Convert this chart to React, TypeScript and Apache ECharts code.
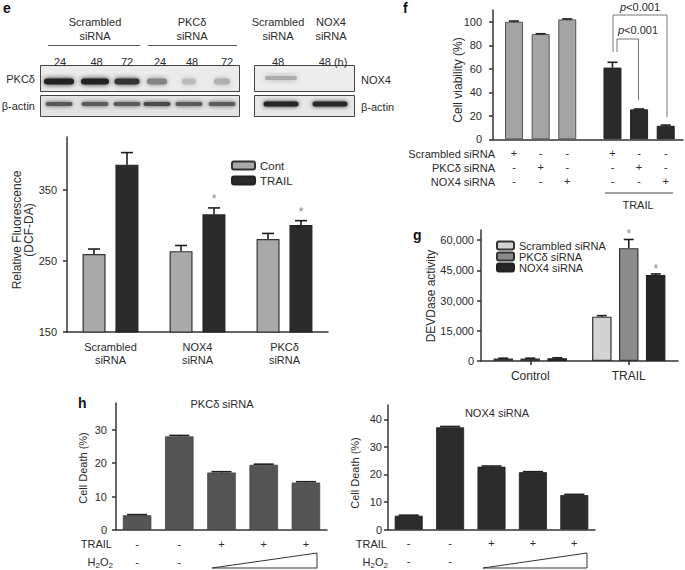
import React, { useEffect, useRef } from 'react';
import * as echarts from 'echarts';

const FONT = "'Liberation Sans', Arial, Helvetica, sans-serif";
const INK = '#2b2b2b';
const AX = { color: '#333', width: 1.5 };

// ---------- Panel e (DCF-DA fluorescence) ----------
const eCategories = ['Scrambled\nsiRNA', 'NOX4\nsiRNA', 'PKCδ\nsiRNA'];
const eCont = [260, 264, 281];
const eContSE = [7, 8, 8];
const eTrail = [386, 316, 301];
const eTrailSE = [17, 9, 6];
const eTrailStar = [false, true, true];
const eTicks = [150, 250, 350];

// Western blot band intensities (0..1)
const blotPKC = [1, 1, 0.9, 0.5, 0.22, 0.28];
const blotActinLeft = [0.72, 0.7, 0.7, 0.78, 0.7, 0.7];
const blotNOX4 = [0.3, 0.0];
const blotActinRight = [0.97, 0.95];
const blotLeftHours = ['24', '48', '72', '24', '48', '72'];
const blotRightHours = ['48', '48 (h)'];

// ---------- Panel f (cell viability) ----------
const fPositions = [0, 1, 2, 3.7, 4.7, 5.7];
const fViability = [100, 89.5, 102, 61, 25.5, 11.5];
const fSE = [0.6, 0.3, 0.4, 4.5, 0.3, 0.6];
const fTrail = [false, false, false, true, true, true];
const fRowNames = ['Scrambled siRNA', 'PKCδ siRNA', 'NOX4 siRNA'];
const fScrambledRow = ['+', '-', '-', '+', '-', '-'];
const fPKCRow = ['-', '+', '-', '-', '+', '-'];
const fNOX4Row = ['-', '-', '+', '-', '-', '+'];
const fTicks = [0, 20, 40, 60, 80, 100];

// ---------- Panel g (DEVDase activity) ----------
const gCategories = ['Control', 'TRAIL'];
const gSeriesNames = ['Scrambled siRNA', 'PKCδ siRNA', 'NOX4 siRNA'];
const gScrambled = [1200, 22000];
const gScrambledSE = [200, 500];
const gPKC = [1200, 56000];
const gPKCSE = [200, 4300];
const gNOX4 = [1400, 42700];
const gNOX4SE = [200, 500];
const gPKCStar = [false, true];
const gNOX4Star = [false, true];
const gTicks = [0, 15000, 30000, 45000, 60000];

// ---------- Panel h (cell death) ----------
const hConditions = ['1', '2', '3', '4', '5'];
const hTrailRow = ['-', '-', '+', '+', '+'];
const hH2O2Row = ['-', '-', '', '', ''];
const hPKCDeath = [4.4, 28, 17.2, 19.5, 14.2];
const hNOX4Death = [5, 37.1, 22.8, 20.8, 12.5];
const hSE = [0.2, 0.3, 0.25, 0.2, 0.25];
const hLeftTicks = [0, 10, 20, 30];
const hRightTicks = [0, 10, 20, 30, 40];

const txt = (text: string, x: number, y: number, extra: any = {}) => ({
  type: 'text',
  x,
  y,
  rotation: extra.rotation || 0,
  style: {
    text,
    fill: INK,
    fontSize: 11,
    fontFamily: FONT,
    align: 'center',
    verticalAlign: 'middle',
    ...(extra.style || {}),
  },
});

const grayOf = (k: number) => {
  const g = Math.round(232 - k * 200);
  return `rgb(${g},${g},${g})`;
};

const band = (cx: number, cy: number, w: number, h: number, k: number, blur = 4) => ({
  type: 'rect',
  shape: { x: cx - w / 2, y: cy - h / 2, width: w, height: h, r: h / 2 },
  style: { fill: grayOf(k), shadowBlur: blur, shadowColor: grayOf(k) },
});

const errSeries = (
  name: string,
  xi: number,
  yi: number,
  items: number[][],
  offsets: number[],
  cap: number,
  starGap: number
) => ({
  type: 'custom',
  name,
  xAxisIndex: xi,
  yAxisIndex: yi,
  silent: true,
  z: 10,
  data: items,
  renderItem: (_params: any, api: any) => {
    const x0 = api.value(0);
    const v = api.value(1);
    const t = api.value(2);
    const g = api.value(3);
    const s = api.value(4);
    const pb = api.coord([x0, v]);
    const pt = api.coord([x0, t]);
    const x = pb[0] + offsets[g];
    const st = { stroke: '#1e1e1e', lineWidth: 1.6 };
    const ch: any[] = [
      { type: 'line', shape: { x1: x, y1: pb[1], x2: x, y2: pt[1] }, style: st },
      { type: 'line', shape: { x1: x - cap / 2, y1: pt[1], x2: x + cap / 2, y2: pt[1] }, style: st },
    ];
    if (s) {
      ch.push({
        type: 'text',
        x,
        y: pt[1] - starGap,
        style: { text: '*', fill: '#8a8a8a', fontSize: 12, fontFamily: FONT, align: 'center', verticalAlign: 'middle' },
      });
    }
    return { type: 'group', children: ch };
  },
});

const labelStyle = { color: INK, fontSize: 11, fontFamily: FONT };

function buildOption(): any {
  const gridBase = { outerBoundsMode: 'none', containLabel: false };
  const fMin = -0.79;
  const fMax = 6.35;
  const fIdx = (v: number) => fPositions.findIndex((p) => Math.abs(p - v) < 0.01);

  const fRowAxis = (row: string[], margin: number) => ({
    gridIndex: 1,
    type: 'value',
    position: 'bottom',
    min: fMin,
    max: fMax,
    axisLine: { show: false, onZero: false },
    axisTick: { show: false },
    splitLine: { show: false },
    axisLabel: {
      ...labelStyle,
      margin,
      customValues: fPositions,
      formatter: (v: number) => {
        const i = fIdx(v);
        return i >= 0 ? row[i] : '';
      },
    },
  });

  const hAxis = (grid: number, row: string[], margin: number, line: boolean) => ({
    gridIndex: grid,
    type: 'category',
    position: 'bottom',
    data: hConditions,
    axisLine: { show: line, lineStyle: AX, onZero: false },
    axisTick: { show: false },
    axisLabel: { ...labelStyle, margin, formatter: (_v: string, i: number) => row[i] },
  });

  const yVal = (grid: number, min: number, max: number, ticks: number[], margin: number, fmt?: any) => ({
    gridIndex: grid,
    type: 'value',
    min,
    max,
    axisLine: { show: true, lineStyle: AX, onZero: false },
    axisTick: { show: true, length: 4, lineStyle: AX, customValues: ticks },
    axisLabel: { ...labelStyle, margin, customValues: ticks, formatter: fmt },
    splitLine: { show: false },
  });

  // error-bar data
  const eErr = [
    ...eCont.map((v, i) => [i, v, v + eContSE[i], 0, 0]),
    ...eTrail.map((v, i) => [i, v, v + eTrailSE[i], 1, eTrailStar[i] ? 1 : 0]),
  ];
  const fErr = fViability.map((v, i) => [fPositions[i], v, v + fSE[i], 0, 0]);
  const gErr = [
    ...gScrambled.map((v, i) => [i, v, v + gScrambledSE[i], 0, 0]),
    ...gPKC.map((v, i) => [i, v, v + gPKCSE[i], 1, gPKCStar[i] ? 1 : 0]),
    ...gNOX4.map((v, i) => [i, v, v + gNOX4SE[i], 2, gNOX4Star[i] ? 1 : 0]),
  ];
  const hLErr = hPKCDeath.map((v, i) => [i, v, v + hSE[i], 0, 0]);
  const hRErr = hNOX4Death.map((v, i) => [i, v, v + hSE[i], 0, 0]);

  // blot graphics
  const leftLanes = [59, 95, 127, 157, 189, 222];
  const leftW = [30, 28, 25, 20, 14, 16];
  const rightLanes = [281, 330];
  const blot: any[] = [
    { type: 'rect', shape: { x: 40.5, y: 65.5, width: 199, height: 26 }, style: { fill: '#ebebeb', stroke: '#444', lineWidth: 1 } },
    { type: 'rect', shape: { x: 40.5, y: 95.5, width: 199, height: 21 }, style: { fill: '#e3e3e3', stroke: '#444', lineWidth: 1 } },
    { type: 'rect', shape: { x: 254.5, y: 65.5, width: 100, height: 26 }, style: { fill: '#ededed', stroke: '#444', lineWidth: 1 } },
    { type: 'rect', shape: { x: 254.5, y: 95.5, width: 100, height: 21 }, style: { fill: '#e8e8e8', stroke: '#444', lineWidth: 1 } },
    ...blotPKC.map((k, i) => band(leftLanes[i], 81.5, leftW[i], 6, k, 5)),
    ...blotActinLeft.map((k, i) => band(leftLanes[i], 104, 27, 4, k, 4)),
    ...blotNOX4.filter((k) => k > 0).map((k, i) => band(rightLanes[i], 78, 32, 4, k, 6)),
    ...blotActinRight.map((k, i) => band(rightLanes[i], 104, 35, 5, k, 4)),
    txt('Scrambled\nsiRNA', 95, 29, { style: { lineHeight: 14 } }),
    txt('PKCδ\nsiRNA', 192, 29, { style: { lineHeight: 14 } }),
    txt('Scrambled\nsiRNA', 278, 29, { style: { lineHeight: 14 } }),
    txt('NOX4\nsiRNA', 331, 29, { style: { lineHeight: 14 } }),
    { type: 'line', shape: { x1: 48, y1: 45.5, x2: 140, y2: 45.5 }, style: { stroke: '#555', lineWidth: 1 } },
    { type: 'line', shape: { x1: 148, y1: 45.5, x2: 237, y2: 45.5 }, style: { stroke: '#555', lineWidth: 1 } },
    ...blotLeftHours.map((h, i) => txt(h, [60, 96.5, 127, 160, 192, 227][i], 61.5)),
    ...blotRightHours.map((h, i) => txt(h, [278, 333][i], 61.5)),
    txt('PKCδ', 35, 79, { style: { align: 'right' } }),
    txt('β-actin', 35, 106, { style: { align: 'right' } }),
    txt('NOX4', 361, 80, { style: { align: 'left' } }),
    txt('β-actin', 361, 107, { style: { align: 'left' } }),
  ];

  const graphics: any[] = [
    ...blot,
    // panel letters
    txt('e', 3, 8, { style: { align: 'left', fontSize: 14, fontWeight: 'bold', fill: '#111' } }),
    txt('f', 403, 8, { style: { align: 'left', fontSize: 14, fontWeight: 'bold', fill: '#111' } }),
    txt('g', 413, 235, { style: { align: 'left', fontSize: 14, fontWeight: 'bold', fill: '#111' } }),
    txt('h', 78, 403, { style: { align: 'left', fontSize: 14, fontWeight: 'bold', fill: '#111' } }),
    // axis titles
    txt('Relative Fluorescence\n(DCF-DA)', 23, 230, { rotation: Math.PI / 2, style: { fontSize: 12, lineHeight: 12 } }),
    txt('Cell viability (%)', 458, 80, { rotation: Math.PI / 2, style: { fontSize: 12 } }),
    txt('DEVDase activity', 431, 296, { rotation: Math.PI / 2, style: { fontSize: 12 } }),
    txt('Cell Death (%)', 83, 468, { rotation: Math.PI / 2 }),
    txt('Cell Death (%)', 355, 473, { rotation: Math.PI / 2 }),
    // f row names
    ...fRowNames.map((n, i) => txt(n, 495, [154, 168, 182][i], { style: { align: 'right' } })),
    // f TRAIL underline
    { type: 'line', shape: { x1: 605, y1: 193, x2: 673, y2: 193 }, style: { stroke: '#444', lineWidth: 1 } },
    txt('TRAIL', 638, 205),
    // f p-value brackets
    { type: 'polyline', shape: { points: [[613, 52], [613, 15], [667, 15], [667, 117]] }, style: { stroke: '#777', lineWidth: 1, fill: 'none' } },
    { type: 'polyline', shape: { points: [[617, 52], [617, 39], [638.5, 39], [638.5, 100]] }, style: { stroke: '#777', lineWidth: 1, fill: 'none' } },
    txt('{i|p}<0.001', 640, 6.5, { style: { rich: { i: { fontStyle: 'italic', fontSize: 11, fontFamily: FONT, fill: INK } } } }),
    txt('{i|p}<0.001', 638, 30, { style: { rich: { i: { fontStyle: 'italic', fontSize: 11, fontFamily: FONT, fill: INK } } } }),
    // h titles and row labels
    txt('PKCδ siRNA', 222, 404),
    txt('NOX4 siRNA', 497, 413),
    txt('TRAIL', 112, 544, { style: { align: 'right' } }),
    txt('H{s|2}O{s|2}', 113, 562, { style: { align: 'right', rich: { s: { fontSize: 8, fontFamily: FONT, fill: INK, verticalAlign: 'bottom', padding: [6, 0, 0, 0] } } } }),
    txt('TRAIL', 387, 544, { style: { align: 'right' } }),
    txt('H{s|2}O{s|2}', 388, 562, { style: { align: 'right', rich: { s: { fontSize: 8, fontFamily: FONT, fill: INK, verticalAlign: 'bottom', padding: [6, 0, 0, 0] } } } }),
    // H2O2 gradient wedges
    { type: 'polygon', shape: { points: [[212, 568], [317, 553], [317, 568]] }, style: { fill: '#fff', stroke: '#333', lineWidth: 1 } },
    { type: 'polygon', shape: { points: [[483, 568], [587, 553], [587, 568]] }, style: { fill: '#fff', stroke: '#333', lineWidth: 1 } },
  ];

  return {
    animation: false,
    backgroundColor: '#fff',
    textStyle: { fontFamily: FONT },
    grid: [
      { ...gridBase, left: 67, top: 137, width: 261, height: 195 },
      { ...gridBase, left: 493, top: 10, width: 190, height: 129.3 },
      { ...gridBase, left: 481, top: 230, width: 197, height: 131 },
      { ...gridBase, left: 116, top: 403, width: 211, height: 127 },
      { ...gridBase, left: 388, top: 405, width: 207, height: 124.5 },
    ],
    legend: [
      {
        data: ['Cont', 'TRAIL'],
        orient: 'vertical',
        left: 226,
        top: 154,
        itemWidth: 23,
        itemHeight: 8,
        itemGap: 2,
        selectedMode: false,
        textStyle: { ...labelStyle, fontSize: 11.5, lineHeight: 13 },
      },
      {
        data: gSeriesNames,
        orient: 'vertical',
        left: 491,
        top: 235,
        itemWidth: 17,
        itemHeight: 8,
        itemGap: 0,
        selectedMode: false,
        textStyle: { ...labelStyle, lineHeight: 11 },
      },
    ],
    xAxis: [
      {
        gridIndex: 0,
        type: 'category',
        data: eCategories,
        axisLine: { show: true, lineStyle: AX, onZero: false },
        axisTick: { show: false },
        axisLabel: { ...labelStyle, margin: 8, lineHeight: 13 },
      },
      {
        gridIndex: 1,
        type: 'value',
        min: fMin,
        max: fMax,
        axisLine: { show: true, lineStyle: AX, onZero: false },
        axisTick: { show: false },
        axisLabel: { show: false },
        splitLine: { show: false },
      },
      fRowAxis(fScrambledRow, 8),
      fRowAxis(fPKCRow, 22),
      fRowAxis(fNOX4Row, 36),
      {
        gridIndex: 2,
        type: 'category',
        data: gCategories,
        axisLine: { show: true, lineStyle: AX, onZero: false },
        axisTick: { show: true, alignWithLabel: true, length: 4, lineStyle: AX },
        axisLabel: { ...labelStyle, fontSize: 12, margin: 9 },
      },
      hAxis(3, hTrailRow, 8, true),
      hAxis(3, hH2O2Row, 26, false),
      hAxis(4, hTrailRow, 8, true),
      hAxis(4, hH2O2Row, 26, false),
    ],
    yAxis: [
      yVal(0, 150, 425, eTicks, 10),
      yVal(1, 0, 110, fTicks, 11),
      yVal(2, 0, 65000, gTicks, 7, (v: number) => v.toLocaleString('en-US')),
      yVal(3, 0, 38, hLeftTicks, 9),
      yVal(4, 0, 45.2, hRightTicks, 6),
    ],
    series: [
      {
        type: 'bar', name: 'Cont', xAxisIndex: 0, yAxisIndex: 0, data: eCont,
        barWidth: 23, barGap: '43%',
        itemStyle: { color: '#a9a9a9', borderColor: '#333', borderWidth: 1.2 },
      },
      {
        type: 'bar', name: 'TRAIL', xAxisIndex: 0, yAxisIndex: 0, data: eTrail,
        barWidth: 23, barGap: '43%',
        itemStyle: { color: '#2b2b2b', borderColor: '#222', borderWidth: 1.2 },
      },
      errSeries('e-err', 0, 0, eErr, [-16.5, 16.5], 12, 9),
      {
        type: 'bar', name: 'Viability', xAxisIndex: 1, yAxisIndex: 1, barWidth: 18,
        data: fViability.map((v, i) => ({
          value: [fPositions[i], v],
          itemStyle: fTrail[i]
            ? { color: '#2a2a2a', borderColor: '#222', borderWidth: 1 }
            : { color: '#a4a4a4', borderColor: '#555', borderWidth: 1 },
        })),
      },
      errSeries('f-err', 1, 1, fErr, [0], 10, 0),
      {
        type: 'bar', name: gSeriesNames[0], xAxisIndex: 5, yAxisIndex: 2, data: gScrambled,
        barWidth: 19.5, barGap: '38%',
        itemStyle: { color: '#d3d3d3', borderColor: '#333', borderWidth: 1.2 },
      },
      {
        type: 'bar', name: gSeriesNames[1], xAxisIndex: 5, yAxisIndex: 2, data: gPKC,
        barWidth: 19.5, barGap: '38%',
        itemStyle: { color: '#8c8c8c', borderColor: '#333', borderWidth: 1.2 },
      },
      {
        type: 'bar', name: gSeriesNames[2], xAxisIndex: 5, yAxisIndex: 2, data: gNOX4,
        barWidth: 19.5, barGap: '38%',
        itemStyle: { color: '#262626', borderColor: '#222', borderWidth: 1.2 },
      },
      errSeries('g-err', 5, 2, gErr, [-27, 0, 27], 10, 5),
      {
        type: 'bar', name: 'PKCδ siRNA death', xAxisIndex: 6, yAxisIndex: 3, data: hPKCDeath,
        barWidth: 28.5, itemStyle: { color: '#555555', borderColor: '#444', borderWidth: 0.8 },
      },
      errSeries('hL-err', 6, 3, hLErr, [0], 20, 0),
      {
        type: 'bar', name: 'NOX4 siRNA death', xAxisIndex: 8, yAxisIndex: 4, data: hNOX4Death,
        barWidth: 28, itemStyle: { color: '#2c2c2c', borderColor: '#222', borderWidth: 0.8 },
      },
      errSeries('hR-err', 8, 4, hRErr, [0], 20, 0),
    ],
    graphic: graphics,
  };
}

export default function App() {
  const ref = useRef<HTMLDivElement>(null);
  useEffect(() => {
    if (!ref.current) return;
    const chart = echarts.init(ref.current, null, { renderer: 'svg' });
    chart.setOption(buildOption());
    return () => chart.dispose();
  }, []);
  return (
    <div
      ref={ref}
      style={{ position: 'absolute', left: 0, top: 0, width: 685, height: 570, background: '#fff' }}
    />
  );
}
